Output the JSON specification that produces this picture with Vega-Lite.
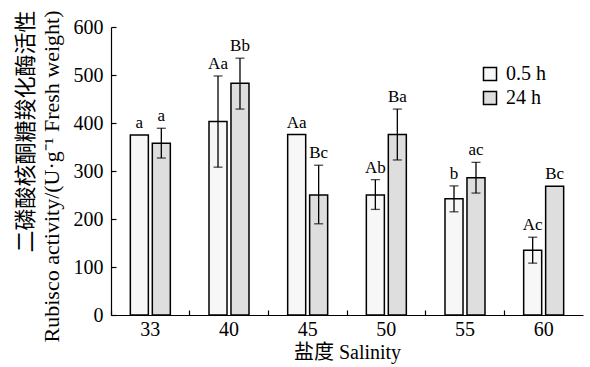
{
  "$schema": "https://vega.github.io/schema/vega-lite/v6.json",
  "width": 472,
  "height": 288,
  "autosize": "none",
  "padding": {"left": 111, "top": 27, "right": 7, "bottom": 52},
  "background": "white",
  "config": {
    "view": {"stroke": null},
    "font": "Liberation Serif",
    "axis": {"labelFont": "Liberation Serif", "titleFont": "'Liberation Serif', 'Noto Sans CJK SC'", "labelColor": "black", "titleColor": "black", "domainColor": "black", "tickColor": "black", "grid": false, "titleFontWeight": "normal", "domainWidth": 1.2, "tickWidth": 1.2}
  },
  "data": {
    "values": [
      {"sal": "33", "time": "0.5 h", "mean": 375, "lo": 375, "hi": 375, "sig": "a"},
      {"sal": "33", "time": "24 h", "mean": 358, "lo": 327, "hi": 389, "sig": "a"},
      {"sal": "40", "time": "0.5 h", "mean": 403, "lo": 308, "hi": 498, "sig": "Aa"},
      {"sal": "40", "time": "24 h", "mean": 483, "lo": 429, "hi": 535, "sig": "Bb"},
      {"sal": "45", "time": "0.5 h", "mean": 376, "lo": 376, "hi": 376, "sig": "Aa"},
      {"sal": "45", "time": "24 h", "mean": 250, "lo": 190, "hi": 312, "sig": "Bc"},
      {"sal": "50", "time": "0.5 h", "mean": 250, "lo": 220, "hi": 282, "sig": "Ab"},
      {"sal": "50", "time": "24 h", "mean": 376, "lo": 323, "hi": 429, "sig": "Ba"},
      {"sal": "55", "time": "0.5 h", "mean": 242, "lo": 215, "hi": 269, "sig": "b"},
      {"sal": "55", "time": "24 h", "mean": 286, "lo": 254, "hi": 318, "sig": "ac"},
      {"sal": "60", "time": "0.5 h", "mean": 135, "lo": 108, "hi": 162, "sig": "Ac"},
      {"sal": "60", "time": "24 h", "mean": 268, "lo": 268, "hi": 268, "sig": "Bc"}
    ]
  },
  "encoding": {
    "x": {"field": "sal", "type": "ordinal", "sort": null, "axis": null,
      "scale": {"paddingInner": 0, "paddingOuter": 0}},
    "xOffset": {"field": "time", "type": "nominal", "sort": ["0.5 h", "24 h"],
      "scale": {"paddingInner": 0.18, "paddingOuter": 0.88}}
  },
  "layer": [
    {
      "mark": {"type": "bar", "stroke": "black", "strokeWidth": 1.5},
      "encoding": {
        "x": {"field": "sal", "type": "ordinal", "sort": null,
          "axis": {"title": "盐度 Salinity", "titleFontSize": 20, "titlePadding": 3, "orient": "bottom",
            "ticks": false, "labelFontSize": 20, "labelAngle": 0, "labelPadding": 4, "domain": true}},
        "y": {"field": "mean", "type": "quantitative",
          "scale": {"domain": [0, 600], "nice": false},
          "axis": {"orient": "left", "values": [0, 100, 200, 300, 400, 500, 600], "ticks": false, "labelPadding": 8, "labelFontSize": 20,
            "title": ["二磷酸核酮糖羧化酶活性", "Rubisco activity/(U·g⁻¹ Fresh weight)"],
            "titleFontSize": 22, "titlePadding": 10, "titleLineHeight": 26,
            "titleAnchor": "end", "titleAlign": "right", "titleY": -17}},
        "fill": {"field": "time", "type": "nominal", "sort": ["0.5 h", "24 h"],
          "scale": {"domain": ["0.5 h", "24 h"], "range": ["#f7f7f7", "#dedede"]},
          "legend": {"title": null, "orient": "none", "legendX": 369, "legendY": 37,
            "symbolType": "square", "symbolSize": 170, "symbolStrokeColor": "black", "symbolStrokeWidth": 1.5,
            "labelFontSize": 20, "labelFont": "Liberation Serif", "labelColor": "black", "rowPadding": 4, "labelOffset": 6}}
      }
    },
    {
      "transform": [{"filter": "datum.hi > datum.lo"}],
      "mark": {"type": "rule", "color": "black", "strokeWidth": 1.3},
      "encoding": {
        "x": {"field": "sal", "type": "ordinal", "sort": null,
          "axis": {"orient": "bottom", "bandPosition": 0, "offset": -5, "tickSize": 5, "labels": false, "domain": false, "title": null}},
        "y": {"field": "lo", "type": "quantitative",
          "axis": {"orient": "left", "values": [0, 100, 200, 300, 400, 500, 600], "offset": -5, "tickSize": 5, "labels": false, "domain": false, "title": null}},
        "y2": {"field": "hi"}
      }
    },
    {
      "transform": [{"filter": "datum.hi > datum.lo"}],
      "mark": {"type": "tick", "color": "black", "size": 9, "thickness": 1.3},
      "encoding": {"y": {"field": "hi", "type": "quantitative", "axis": null}}
    },
    {
      "transform": [{"filter": "datum.hi > datum.lo"}],
      "mark": {"type": "tick", "color": "black", "size": 9, "thickness": 1.3},
      "encoding": {"y": {"field": "lo", "type": "quantitative", "axis": null}}
    },
    {
      "mark": {"type": "text", "baseline": "alphabetic", "dy": -7, "fontSize": 17, "font": "Liberation Serif", "color": "black"},
      "encoding": {
        "y": {"field": "hi", "type": "quantitative", "axis": null},
        "text": {"field": "sig"}
      }
    }
  ],
  "resolve": {"axis": {"x": "independent", "y": "independent"}}
}
